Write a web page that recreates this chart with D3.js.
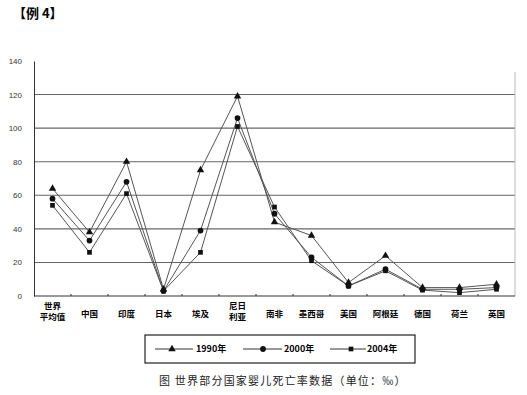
<!DOCTYPE html>
<html><head><meta charset="utf-8">
<script src="https://cdn.jsdelivr.net/npm/d3@7"></script>
<style>body{margin:0;background:#fff}svg{display:block}</style>
</head><body>
<svg id="c" width="527" height="395"></svg>
<script>
const categories = ["世界\n平均值","中国","印度","日本","埃及","尼日\n利亚","南非","墨西哥","美国","阿根廷","德国","荷兰","英国"];
const s1990 = [64,38,80,4,75,119,44,36,8,24,5,5,7];
const s2000 = [58,33,68,3,39,106,49,23,6,16,4,4,5];
const s2004 = [54,26,61,3,26,101,53,21,6,15,3.5,2,4];
const yTicks = [0,20,40,60,80,100,120,140];
const seriesNames = ["1990年","2000年","2004年"];

(function(){
const svg = d3.select("#c");
const pL = 34, pR = 515, pT = 61, pB = 296;
const x = d3.scaleBand().domain(categories).range([pL, pR]);
const y = d3.scaleLinear().domain([0,140]).range([pB, pT]);

svg.append("text").attr("x",13).attr("y",18).attr("font-family","Noto Sans CJK SC").attr("font-weight","bold").attr("font-size",13).text("【例 4】");

// gridlines
svg.append("g").selectAll("line").data(yTicks.filter(d=>d>0&&d<140)).join("line")
  .attr("x1",pL).attr("x2",pR).attr("y1",d=>y(d)).attr("y2",d=>y(d))
  .attr("stroke","#666").attr("stroke-width",1.1);
// right border
svg.append("line").attr("x1",pR).attr("x2",pR).attr("y1",72).attr("y2",pB).attr("stroke","#bbb");

// y axis
const ya = svg.append("g").attr("transform",`translate(${pL},0)`).call(d3.axisLeft(y).tickValues(yTicks).tickSize(0).tickPadding(12));
ya.select(".domain").attr("stroke","#333");
ya.selectAll("text").attr("font-family","Liberation Sans").attr("font-size",8).attr("fill","#333");

// x axis
const xa = svg.append("g").attr("transform",`translate(0,${pB})`);
xa.append("line").attr("x1",pL).attr("x2",pR).attr("stroke","#333");
xa.selectAll(".tk").data(categories.slice(1)).join("line").attr("class","tk")
  .attr("x1",d=>x(d)).attr("x2",d=>x(d)).attr("y1",0).attr("y2",-2).attr("stroke","#333");
const labelLines = [];
categories.forEach(d=>{
  const parts = d.split("\n");
  const y0 = parts.length>1 ? 13 : 21;
  parts.forEach((p,i)=>labelLines.push({cat:d, text:p, dy:y0+i*10.5}));
});
xa.selectAll(".lb").data(labelLines).join("text").attr("class","lb")
  .attr("font-family","Noto Sans CJK SC").attr("font-weight","bold").attr("font-size",8.5).attr("text-anchor","middle")
  .attr("x",d=>x(d.cat)+x.bandwidth()/2).attr("y",d=>d.dy).text(d=>d.text);

const cx = d => x(d)+x.bandwidth()/2;
const line = d3.line().x((v,i)=>cx(categories[i])).y(v=>y(v));
const series = [s1990,s2000,s2004];
const g = svg.append("g");
series.forEach(s=>{
  g.append("path").attr("d",line(s)).attr("fill","none").attr("stroke","#555").attr("stroke-width",1);
});
const tri = d3.symbol().type(d3.symbolTriangle).size(24);
const circ = d3.symbol().type(d3.symbolCircle).size(26);
const sq = d3.symbol().type(d3.symbolSquare).size(22);
const shapes = [tri,circ,sq];
series.forEach((s,k)=>{
  g.selectAll(null).data(s).join("path")
    .attr("transform",(v,i)=>`translate(${cx(categories[i])},${y(v)})`)
    .attr("d",shapes[k]()).attr("fill","#111");
});

// legend
const lg = svg.append("g");
lg.append("rect").attr("x",145).attr("y",335).attr("width",270).attr("height",28).attr("fill","none").attr("stroke","#222").attr("stroke-width",1.2);
const legX = [[155,193,172,196],[243,282,263,284],[330,366,351,367]];
seriesNames.forEach((n,k)=>{
  const [a,b,m,t] = legX[k];
  lg.append("line").attr("x1",a).attr("x2",b).attr("y1",349).attr("y2",349).attr("stroke","#333");
  lg.append("path").attr("transform",`translate(${m},349)`).attr("d",shapes[k]()).attr("fill","#111");
  lg.append("text").attr("x",t).attr("y",352).attr("font-family","Noto Sans CJK SC").attr("font-weight","bold").attr("font-size",9).text(n);
});

svg.append("text").attr("x",159).attr("y",385).attr("font-family","Noto Sans CJK SC").attr("font-size",11).attr("letter-spacing",1.2).attr("fill","#222")
  .text("图 世界部分国家婴儿死亡率数据（单位：‰）");
})();
</script>
</body></html>
